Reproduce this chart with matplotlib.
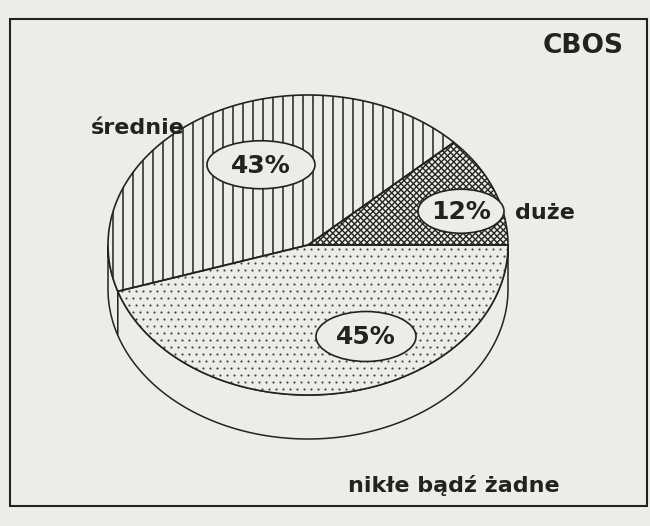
import numpy as np
import matplotlib
matplotlib.use("Agg")
import matplotlib.pyplot as plt
from matplotlib.patches import Polygon, Ellipse, Rectangle
from matplotlib.collections import LineCollection

# Data
labels = ["duże", "średnie", "nikłe bądź żadne"]
values = [12, 43, 45]
pct_labels = ["12%", "43%", "45%"]
hatches = ["cross", "vertical", "dots"]

# label positions (pie units) and outer label positions (pixels)
pct_pos = [(0.765, 0.225), (-0.235, 0.535), (0.29, -0.61)]
pct_size = [(86, 44), (108, 48), (100, 50)]
name_pos = [(545, 213), (138, 128), (454, 485)]

paper = "#edece7"
ink = "#222222"

W, H = 650, 526
fig = plt.figure(figsize=(6.5, 5.26), dpi=100)
fig.patch.set_facecolor(paper)
ax = fig.add_axes([0, 0, 1, 1])
ax.set_xlim(0, W)
ax.set_ylim(H, 0)
ax.axis("off")

# pie geometry in pixels
cx, cy = 308, 245
rx, ry = 200, 150
depth = 44


def arc(t0, t1, dy=0, n=120):
    t = np.radians(np.linspace(t0, t1, n))
    return np.column_stack([cx + rx * np.cos(t), cy - ry * np.sin(t) + dy])


total = sum(values)
ends = 360 * np.cumsum(values) / total
starts = np.concatenate([[0], ends[:-1]])

# frame
ax.add_patch(Rectangle((10, 19), 637, 487, fill=False, ec=ink, lw=1.5))

# sides of the cylinder (front half only)
for s, e in zip(starts, ends):
    a, b = max(s, 180), min(e, 360)
    if a < b:
        top = arc(a, b)
        bot = arc(b, a, dy=depth)
        ax.add_patch(Polygon(np.vstack([top, bot]), closed=True,
                             fc=paper, ec=ink, lw=1.1, zorder=1))


def add_hatch(patch, kind):
    if kind == "vertical":
        xs = np.arange(cx - rx + 5, cx + rx, 10)
        segs = [[(x, cy - ry - 5), (x, cy + ry + 5)] for x in xs]
        lc = LineCollection(segs, colors=ink, linewidths=1.1, zorder=3)
        ax.add_collection(lc)
        lc.set_clip_path(patch)
    elif kind == "cross":
        segs = []
        for c in np.arange(-700, 700, 6.2):
            segs.append([(cx - 250, cy - 250 + c), (cx + 250, cy + 250 + c)])
            segs.append([(cx - 250, cy + 250 + c), (cx + 250, cy - 250 + c)])
        lc = LineCollection(segs, colors=ink, linewidths=1.0, zorder=3)
        ax.add_collection(lc)
        lc.set_clip_path(patch)
    elif kind == "dots":
        pts = []
        for i, y in enumerate(np.arange(cy - ry, cy + ry + 7, 7)):
            off = 3.5 if i % 2 else 0
            for x in np.arange(cx - rx + off, cx + rx, 7):
                pts.append((x, y))
        pts = np.array(pts)
        sc = ax.scatter(pts[:, 0], pts[:, 1], s=2.4, c="#444444",
                        lw=0, zorder=3)
        sc.set_clip_path(patch)


# top face
for s, e, kind in zip(starts, ends, hatches):
    poly = np.vstack([[cx, cy], arc(s, e)])
    p = Polygon(poly, closed=True, fc=paper, ec="none", zorder=2)
    ax.add_patch(p)
    add_hatch(p, kind)
    ax.add_patch(Polygon(poly, closed=True, fill=False, ec=ink, lw=1.2,
                         zorder=4))

# percentage labels in ellipses
for (u, v), (w, h), txt in zip(pct_pos, pct_size, pct_labels):
    x, y = cx + u * rx, cy - v * ry
    ax.add_patch(Ellipse((x, y), w, h, fc=paper, ec=ink, lw=1.2, zorder=5))
    ax.text(x, y + 1, txt, ha="center", va="center", fontsize=18,
            fontweight="bold", color=ink, zorder=6)

# category names
for (x, y), txt in zip(name_pos, labels):
    ax.text(x, y, txt, ha="center", va="center", fontsize=16,
            fontweight="bold", color=ink)

ax.text(583, 46, "CBOS", ha="center", va="center", fontsize=19,
        fontweight="bold", color=ink)

fig.savefig("out.png", dpi=100, facecolor=paper)
